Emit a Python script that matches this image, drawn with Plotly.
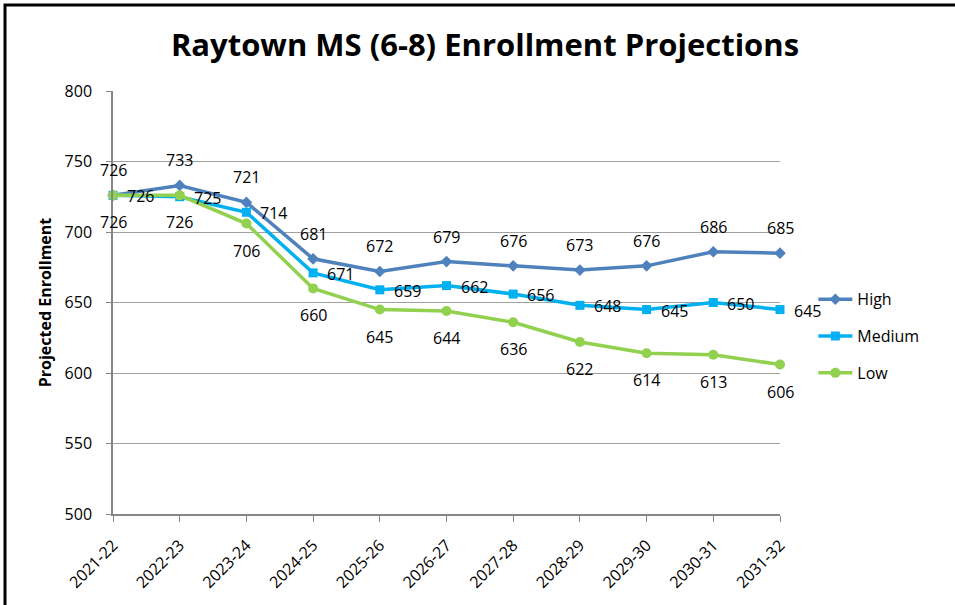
import plotly.graph_objects as go

years = ["2021-22", "2022-23", "2023-24", "2024-25", "2025-26", "2026-27",
         "2027-28", "2028-29", "2029-30", "2030-31", "2031-32"]
high = [726, 733, 721, 681, 672, 679, 676, 673, 676, 686, 685]
medium = [726, 725, 714, 671, 659, 662, 656, 648, 645, 650, 645]
low = [726, 726, 706, 660, 645, 644, 636, 622, 614, 613, 606]

FONT = "Open Sans"
LBL = dict(size=16, color="black", family=FONT)

series = [
    ("High", high, "#4F81BD", "diamond", 9),
    ("Medium", medium, "#00B0F0", "square", 9),
    ("Low", low, "#92D050", "circle", 10),
]

fig = go.Figure()
for name, vals, col, sym, msz in series:
    fig.add_trace(go.Scatter(x=years, y=vals, name=name, mode="lines+markers",
                             legendgroup=name,
                             line=dict(color=col, width=3.5),
                             marker=dict(symbol=sym, size=msz, color=col),
                             cliponaxis=False))

annotations = []
for x, v in zip(years, high):
    annotations.append(dict(x=x, y=v, text=str(v), showarrow=False, yshift=25,
                            xanchor="center", yanchor="middle", font=LBL))
for x, v in zip(years, medium):
    annotations.append(dict(x=x, y=v, text=str(v), showarrow=False, xshift=12, yshift=-1,
                            xanchor="left", yanchor="middle", font=LBL))
for x, v in zip(years, low):
    annotations.append(dict(x=x, y=v, text=str(v), showarrow=False, yshift=-27,
                            xanchor="center", yanchor="middle", font=LBL))

PW, PH = 667.0, 426.0
fig.update_layout(
    width=955, height=605,
    margin=dict(l=113, r=175, t=91, b=88),
    paper_bgcolor="white", plot_bgcolor="white",
    font=dict(family=FONT, color="black"),
    title=dict(text="<b>Raytown MS (6-8) Enrollment Projections</b>",
               font=dict(size=31, family=FONT, color="black"),
               x=485/955, xanchor="center", xref="container", y=0.926, yanchor="middle"),
    showlegend=True,
    legend=dict(x=1.05, y=0.42, xanchor="left", yanchor="middle",
                font=dict(size=16, family=FONT), tracegroupgap=13,
                itemwidth=34, bgcolor="rgba(0,0,0,0)"),
    xaxis=dict(type="category", showgrid=False, showline=True, linecolor="#868686",
               linewidth=1.5, ticks="outside", ticklen=6, tickcolor="#868686",
               tickangle=-45, tickfont=dict(size=16, family=FONT),
               ticklabelstandoff=8, range=[0, 10]),
    yaxis=dict(range=[500, 800], dtick=50, showgrid=True, gridcolor="#a0a0a0",
               gridwidth=1.2, showline=True, linecolor="#868686", linewidth=1.5,
               ticks="outside", ticklen=5, tickcolor="#868686",
               tickfont=dict(size=16, family=FONT), zeroline=False,
               ticklabelstandoff=11,
               title=dict(text="<b>Projected Enrollment</b>",
                          font=dict(size=16, family=FONT), standoff=9)),
    annotations=annotations,
    shapes=[
        dict(type="path", xref="paper", yref="paper",
             path=f"M {-108/PW} {-110/PH} L {-108/PW} {512.5/PH} L {860/PW} {512.5/PH}",
             line=dict(color="black", width=3)),
    ],
)

fig.write_html("out.html", config={"displayModeBar": False},
               post_script="document.body.style.margin='0';document.body.style.overflow='hidden';")
